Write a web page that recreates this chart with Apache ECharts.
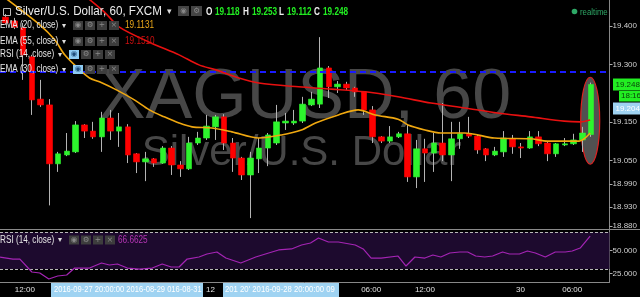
<!DOCTYPE html>
<html><head><meta charset="utf-8">
<script src="https://cdn.jsdelivr.net/npm/echarts@6/dist/echarts.min.js"></script>
<style>html,body{margin:0;padding:0;background:#000;}#c{width:640px;height:297px;}</style>
</head><body><div id="c"></div>
<script>
// ---- data (hourly XAG/USD candles) ----
const opens  = [19.423,19.413,19.395,19.320,19.210,19.195,19.042,19.065,19.073,19.143,19.127,19.112,19.161,19.127,19.138,19.068,19.047,19.055,19.044,19.083,19.039,19.029,19.096,19.109,19.138,19.164,19.096,19.057,19.013,19.055,19.083,19.096,19.148,19.148,19.153,19.195,19.197,19.291,19.242,19.249,19.239,19.229,19.182,19.112,19.101,19.112,19.120,19.008,19.081,19.070,19.096,19.065,19.107,19.120,19.114,19.081,19.065,19.073,19.107,19.086,19.083,19.112,19.096,19.068,19.091,19.094,19.104,19.118];
const closes = [19.408,19.397,19.325,19.208,19.195,19.042,19.068,19.075,19.143,19.127,19.112,19.161,19.127,19.138,19.065,19.047,19.055,19.044,19.083,19.039,19.029,19.096,19.109,19.140,19.164,19.096,19.057,19.013,19.057,19.083,19.117,19.151,19.153,19.153,19.197,19.210,19.291,19.242,19.249,19.239,19.229,19.182,19.112,19.101,19.112,19.120,19.008,19.081,19.070,19.096,19.065,19.107,19.120,19.114,19.078,19.065,19.075,19.109,19.086,19.083,19.112,19.094,19.068,19.094,19.094,19.104,19.122,19.248];
const lows   = [19.403,19.392,19.260,19.169,19.190,18.934,19.021,19.062,19.070,19.109,19.107,19.073,19.104,19.086,19.044,19.018,18.997,19.034,19.042,19.013,19.008,19.026,19.091,19.104,19.104,19.078,19.021,19.000,18.901,19.018,19.036,19.091,19.130,19.143,19.148,19.192,19.187,19.213,19.226,19.234,19.216,19.169,19.096,19.096,19.096,19.109,18.995,18.979,18.995,19.021,19.049,18.997,19.081,19.109,19.068,19.049,19.062,19.060,19.068,19.057,19.081,19.088,19.049,19.060,19.088,19.091,19.073,19.112];
const highs  = [19.431,19.421,19.408,19.325,19.260,19.210,19.073,19.122,19.153,19.145,19.151,19.177,19.182,19.174,19.145,19.070,19.073,19.057,19.088,19.088,19.049,19.112,19.125,19.169,19.169,19.171,19.109,19.060,19.073,19.109,19.122,19.195,19.174,19.182,19.216,19.229,19.371,19.296,19.257,19.255,19.242,19.231,19.192,19.114,19.140,19.125,19.143,19.104,19.107,19.122,19.200,19.151,19.151,19.164,19.117,19.083,19.086,19.127,19.117,19.096,19.127,19.127,19.099,19.096,19.109,19.120,19.138,19.253];

const ema20Idx = [-0.64,3.91,5.62,6.76,8.24,9.6,10.74,12.68,14.73,16.44,18.15,19.85,21.33,23.61,25.89,28.97,31.58,33.86,35.46,38.08,40.35,42.29,44.91,46.05,47.98,49.8,52.54,55.95,60.05,62.0,65.63,66.9];
const ema20Val = [19.483,19.403,19.364,19.325,19.291,19.265,19.255,19.234,19.208,19.182,19.164,19.148,19.138,19.135,19.125,19.109,19.117,19.130,19.148,19.169,19.182,19.169,19.158,19.143,19.130,19.122,19.122,19.109,19.107,19.101,19.101,19.122];
const ema55Idx = [9.26,11.31,13.02,16.44,19.85,22.13,24.07,26.69,28.97,33.52,37.28,41.15,44.91,48.67,52.54,56.3,60.05,63.93,65.75,66.89];
const ema55Val = [19.475,19.436,19.397,19.358,19.325,19.299,19.286,19.265,19.252,19.242,19.236,19.229,19.216,19.200,19.187,19.174,19.164,19.153,19.151,19.156];

const rsiIdx = [-0.64,0.84,1.63,3.0,3.91,4.94,5.96,6.99,7.9,9.61,10.97,11.88,12.79,13.93,15.3,16.78,17.92,18.94,19.85,20.77,22.13,23.04,24.18,25.2,26.91,28.62,30.1,31.24,32.72,33.86,34.89,35.8,36.94,38.08,40.01,40.92,41.83,42.97,44.91,45.82,46.84,47.98,48.89,49.8,50.83,51.97,52.88,53.79,54.82,55.73,56.87,57.66,58.8,59.71,60.62,61.76,62.9,64.04,64.84,65.75,66.89];
const rsiVal = [43.1,40.9,40.9,26.8,25.7,19.1,22.4,23.5,31.1,31.1,36.6,34.4,35.5,31.1,30.0,31.1,35.5,32.2,32.2,40.9,43.1,46.4,48.6,42.0,36.6,43.1,47.5,50.8,51.9,56.2,58.4,63.8,59.5,59.5,56.2,51.9,42.0,42.0,44.2,33.3,43.1,42.0,45.3,43.1,47.5,48.6,48.6,44.2,43.1,44.2,48.6,46.4,46.4,49.7,47.5,43.1,48.6,48.6,49.7,52.9,66.0];

const priceTicks = [19.4, 19.3, 19.15, 19.05, 18.99, 18.93, 18.88];
const rsiTicks = [50, 25];
const rsiLevels = [30, 70];
const timeLabels = ['12:00', '06:00', '12:00', '30', '06:00'];
const timeLabelIdx = [2.2, 41.83, 47.98, 58.92, 64.84];
const refLevel = 19.2805;
const ohlc = {O: '19.118', H: '19.253', L: '19.112', C: '19.248'};
const emaLegend = [['EMA (20, close)', '19.1131'], ['EMA (55, close)', '19.1510'], ['RSI (14, close)', ''], ['EMA (30, close)', '']];
const rsiLast = '66.6625';
const crossTimeA = '2016-09-27 20:00:00 2016-08-29 016-08-31';
const crossTimeB = "201 20' 2016-09-28 20:00:00 09";
const crossPrice = '19.204';
const countdown = '18:16';

// ---- chart ----
const chart = echarts.init(document.getElementById('c'), null, {renderer: 'canvas', width: 640, height: 297});
const candleData = opens.map((o, i) => [i, o, closes[i], lows[i], highs[i]]);
const bodyData = opens.map((o, i) => [i, o, closes[i], Math.min(o, closes[i]), Math.max(o, closes[i])]);
const pair = (a, b) => a.map((x, i) => [x, b[i]]);
const XMIN = -0.645, XMAX = 69.11;
const SANS = '"Liberation Sans", Arial, sans-serif';
const GREEN = '#2df52d', RED = '#ff0000';

chart.setOption({
  backgroundColor: '#000',
  animation: false,
  grid: [
    {left: 0, right: 27.5, top: 0, height: 229},
    {left: 0, right: 27.5, top: 229, height: 53}
  ],
  xAxis: [
    {type: 'value', gridIndex: 0, min: XMIN, max: XMAX, show: false, axisLine: {onZero: false}},
    {type: 'value', gridIndex: 1, min: XMIN, max: XMAX,
     axisLine: {show: true, onZero: false, lineStyle: {color: '#888'}},
     axisTick: {show: false}, splitLine: {show: false},
     axisLabel: {customValues: timeLabelIdx, color: '#e0e0e0', fontSize: 8, fontFamily: SANS, margin: 4,
       formatter: v => { let k = 0, d = 1e9; timeLabelIdx.forEach((t, i) => { if (Math.abs(t - v) < d) { d = Math.abs(t - v); k = i; } }); return timeLabels[k]; }}}
  ],
  yAxis: [
    {type: 'value', gridIndex: 0, position: 'right', min: 18.8727, max: 19.4675,
     axisLine: {show: true, onZero: false, lineStyle: {color: '#888'}},
     axisTick: {show: true, length: 3, customValues: priceTicks, lineStyle: {color: '#aaa'}},
     splitLine: {show: false},
     axisLabel: {customValues: priceTicks, color: '#cfcfcf', fontSize: 8, fontFamily: SANS, margin: 3, formatter: v => v.toFixed(3)}},
    {type: 'value', gridIndex: 1, position: 'right', min: 15.87, max: 73.66,
     axisLine: {show: true, onZero: false, lineStyle: {color: '#888'}},
     axisTick: {show: true, length: 3, customValues: rsiTicks, lineStyle: {color: '#aaa'}},
     splitLine: {show: false},
     axisLabel: {customValues: rsiTicks, color: '#cfcfcf', fontSize: 8, fontFamily: SANS, margin: 3, formatter: v => v.toFixed(3)}}
  ],
  series: [
    {type: 'candlestick', name: 'wick', xAxisIndex: 0, yAxisIndex: 0, data: candleData, barWidth: 1, z: 3,
     itemStyle: {color: '#b4b4b4', color0: '#b4b4b4', borderColor: '#b4b4b4', borderColor0: '#b4b4b4', borderWidth: 1},
     markLine: {silent: true, symbol: 'none', label: {show: false},
       lineStyle: {color: '#1a1aff', type: [6, 4], width: 2}, data: [{yAxis: refLevel}]}},
    {type: 'candlestick', name: 'body', xAxisIndex: 0, yAxisIndex: 0, data: bodyData, barWidth: 6, z: 4,
     itemStyle: {color: GREEN, color0: RED, borderColor: GREEN, borderColor0: RED, borderWidth: 0.6}},
    {type: 'line', name: 'EMA55', xAxisIndex: 0, yAxisIndex: 0, data: pair(ema55Idx, ema55Val), showSymbol: false, symbol: 'none', smooth: 0.3, z: 5,
     lineStyle: {color: '#e81010', width: 1.6}},
    {type: 'line', name: 'EMA20', xAxisIndex: 0, yAxisIndex: 0, data: pair(ema20Idx, ema20Val), showSymbol: false, symbol: 'none', smooth: 0.3, z: 5,
     lineStyle: {color: '#f0a810', width: 1.6}},
    {type: 'line', name: 'RSI', xAxisIndex: 1, yAxisIndex: 1, data: pair(rsiIdx, rsiVal), showSymbol: false, symbol: 'none', z: 5,
     lineStyle: {color: '#a424b4', width: 1.2},
     markArea: {silent: true, itemStyle: {color: '#1d0a2e'}, data: [[{yAxis: rsiLevels[0]}, {yAxis: rsiLevels[1]}]]},
     markLine: {silent: true, symbol: 'none', label: {show: false},
       lineStyle: {color: '#b8b8b8', type: [3, 2], width: 1}, data: rsiLevels.map(v => ({yAxis: v}))}}
  ]
});

// ---- decorations ----
function T(x, y, s, fill, font, opt) {
  opt = opt || {};
  const align = opt.align || 'left';
  return {type: 'text', x: x, y: y, silent: true, z: opt.z == null ? 20 : opt.z,
    scaleX: opt.sx || 1, scaleY: 1, originX: 0, originY: 0,
    style: {text: s, fill: fill, font: font, textAlign: align, align: align, textVerticalAlign: 'middle', verticalAlign: 'middle'}};
}
function R(x, y, w, h, fill, z) {
  return {type: 'rect', silent: true, z: z || 19, shape: {x: x, y: y, width: w, height: h}, style: {fill: fill}};
}
const NS = 0.82; // horizontal squeeze to mimic the condensed UI font
const g = [];
// watermark
g.push(T(305, 99, 'XAGUSD, 60', '#474747', '70px ' + SANS, {align: 'center', z: 0}));
g.push(T(301.5, 153, 'Silver/U.S. Dollar', '#474747', '42px ' + SANS, {align: 'center', z: 0}));
// header
g.push({type: 'rect', silent: true, z: 20, shape: {x: 3.5, y: 8.5, width: 7, height: 7}, style: {fill: 'none', stroke: '#bbb', lineWidth: 1}});
g.push(T(15, 12, 'Silver/U.S. Dollar, 60, FXCM', '#ececec', '12px ' + SANS, {sx: 0.97}));
g.push(T(167, 12, '▾', '#ddd', '9px "DejaVu Sans"'));
g.push(R(178, 6, 11, 10, '#444')); g.push(R(191, 6, 11, 10, '#444'));
g.push(T(183.5, 11, '◉', '#888', '7.5px "DejaVu Sans"', {align: 'center'}));
g.push(T(196.5, 11, '⚙', '#888', '7.5px "DejaVu Sans"', {align: 'center'}));
const ohlcX = [[206, 'O', 215], [243, 'H', 252], [279, 'L', 287], [314, 'C', 323]];
ohlcX.forEach(([lx, k, vx]) => {
  g.push(T(lx, 12, k, '#eee', 'bold 10px ' + SANS, {sx: NS}));
  g.push(T(vx, 12, ohlc[k], '#22ee22', 'bold 10px ' + SANS, {sx: NS}));
});
g.push({type: 'circle', silent: true, z: 20, shape: {cx: 574.5, cy: 11.5, r: 2.8}, style: {fill: '#2ea866'}});
g.push(T(580, 12, 'realtime', '#2ea866', '9.5px ' + SANS, {sx: NS}));
// legend rows
const rowY = [25.5, 41.5, 54.5, 69.5];
const iconX0 = [73, 73, 69, 73];
const hi = [false, false, true, true];
const glyphs = ['◉', '⚙', '+', '×'];
const legendColors = ['#eba81a', '#d01010'];
emaLegend.forEach((row, r) => {
  const y = rowY[r];
  g.push(T(0, y, row[0], '#e6e6e6', '10px ' + SANS, {sx: NS}));
  g.push(T(iconX0[r] - 11, y, '▾', '#ddd', '8px "DejaVu Sans"'));
  for (let k = 0; k < 4; k++) {
    const x = iconX0[r] + k * 12;
    const h = hi[r] && k === 0;
    g.push(R(x, y - 4.5, 10, 9, h ? '#8ecbf2' : '#3d3d3d'));
    g.push(T(x + 5, y, glyphs[k], h ? '#1e4c7a' : '#8a8a8a', '7.5px "DejaVu Sans"', {align: 'center'}));
  }
  if (row[1]) g.push(T(125, y, row[1], legendColors[r], '10px ' + SANS, {sx: NS}));
});
// RSI pane legend
g.push(T(0, 240, 'RSI (14, close)', '#e6e6e6', '10px ' + SANS, {sx: NS}));
g.push(T(58, 240, '▾', '#ddd', '8px "DejaVu Sans"'));
for (let k = 0; k < 4; k++) {
  const x = 69 + k * 12;
  g.push(R(x, 235.5, 10, 9, '#3d3d3d'));
  g.push(T(x + 5, 240, glyphs[k], '#8a8a8a', '7.5px "DejaVu Sans"', {align: 'center'}));
}
g.push(T(118, 240, rsiLast, '#b535b5', '10px ' + SANS, {sx: NS}));
// separators
g.push({type: 'line', silent: true, z: 20, shape: {x1: 0, y1: 229.5, x2: 640, y2: 229.5}, style: {stroke: '#8a8a8a', lineWidth: 1}});
// price labels on the right
const last = opens.length - 1;
const pClose = chart.convertToPixel({gridIndex: 0}, [last, closes[last]]);
g.push(R(613, pClose[1] - 6, 27, 12, '#22ee22'));
g.push(T(615.5, pClose[1], ohlc.C, '#0b3d0b', '8px ' + SANS));
g.push(R(619, pClose[1] + 6.5, 21, 10.5, '#22ee22'));
g.push(T(621, pClose[1] + 11.7, countdown, '#0b3d0b', '8px ' + SANS));
g.push(R(613, pClose[1] + 18, 27, 12, '#9fd3f2'));
g.push(T(615.5, pClose[1] + 24, crossPrice, '#ffffff', '8px ' + SANS));
// ellipse annotation around the last candle
const pMid = chart.convertToPixel({gridIndex: 0}, [last - 0.1, (highs[last] + lows[last]) / 2]);
g.push({type: 'ellipse', silent: true, z: 1, shape: {cx: pMid[0], cy: pMid[1] + 11, rx: 9.5, ry: 43.5},
  style: {fill: 'rgba(135,135,135,0.6)', stroke: '#e02020', lineWidth: 1.2}});
// crosshair time boxes on bottom axis
g.push(R(51, 283, 152, 14, '#9fd3f2'));
g.push(R(223, 283, 116, 14, '#9fd3f2'));
g.push(T(54, 290, crossTimeA, '#ffffff', '8.5px ' + SANS, {sx: 0.89}));
g.push(T(225, 290, crossTimeB, '#ffffff', '8.5px ' + SANS, {sx: 0.91}));
g.push(T(206, 290, '12', '#e0e0e0', '8px ' + SANS));

chart.setOption({graphic: {elements: g}});
</script>
</body></html>
